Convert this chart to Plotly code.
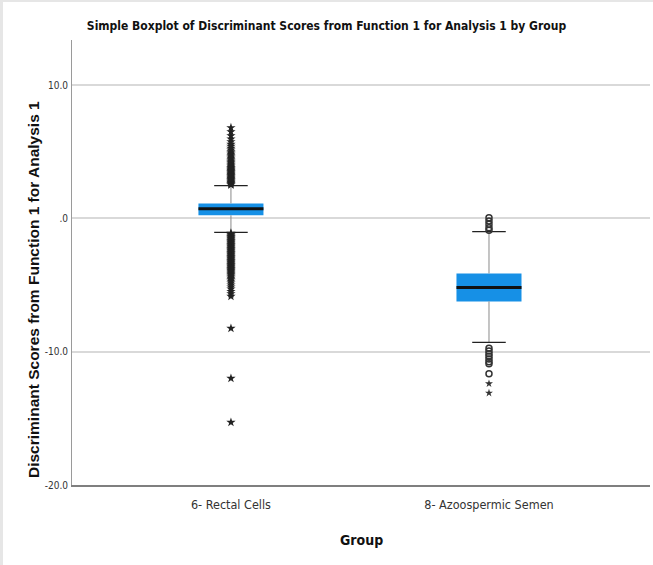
import plotly.graph_objects as go

# Groups and summary statistics of the discriminant scores
groups = ["6- Rectal Cells", "8- Azoospermic Semen"]
q1 = [0.23, -6.23]
median = [0.72, -5.18]
q3 = [1.12, -4.13]
lower_whisker = [-1.05, -9.30]
upper_whisker = [2.45, -1.00]

# Extreme values (stars) and outliers (circles) per group
rectal_extremes = [
    2.50, 2.56, 2.62, 2.68, 2.74, 2.80, 2.86, 2.92, 2.98, 3.04, 3.10, 3.16,
    3.22, 3.28, 3.34, 3.40, 3.46, 3.52, 3.58, 3.64, 3.70, 3.76, 3.82, 3.90,
    3.98, 4.06, 4.14, 4.22, 4.30, 4.40, 4.50, 4.60, 4.70, 4.80, 4.90, 5.00,
    5.12, 5.25, 5.40, 5.55, 5.75, 5.95, 6.20, 6.50, 6.80,
    -1.12, -1.18, -1.24, -1.30, -1.36, -1.42, -1.48, -1.54, -1.60, -1.66,
    -1.72, -1.78, -1.84, -1.90, -1.96, -2.02, -2.08, -2.14, -2.20, -2.26,
    -2.32, -2.38, -2.44, -2.50, -2.56, -2.62, -2.68, -2.74, -2.80, -2.86,
    -2.92, -2.98, -3.04, -3.10, -3.16, -3.22, -3.28, -3.34, -3.40, -3.46,
    -3.52, -3.58, -3.64, -3.70, -3.76, -3.82, -3.88, -3.94, -4.00, -4.08,
    -4.16, -4.24, -4.32, -4.40, -4.50, -4.60, -4.72, -4.85, -5.00, -5.15,
    -5.30, -5.48, -5.65, -5.85, -8.25, -12.00, -15.30,
]
semen_outliers = [0.05, -0.20, -0.45, -0.70, -0.90,
                  -9.75, -9.95, -10.15, -10.35, -10.55, -10.75, -10.90, -11.65]
semen_extremes = [-12.40, -13.10]

box_fill = "#1690e6"
box_w = 0.252
cap_w = 0.13

fig = go.Figure()
pos = [0, 1]

for i, g in enumerate(groups):
    fig.add_trace(go.Box(
        x=[pos[i]], q1=[q1[i]], median=[median[i]], q3=[q3[i]],
        lowerfence=[lower_whisker[i]], upperfence=[upper_whisker[i]],
        width=box_w, whiskerwidth=0, fillcolor=box_fill,
        line=dict(color="rgba(0,0,0,0)", width=0), boxpoints=False,
        hoverinfo="skip", showlegend=False,
    ))
    # whisker stems
    for lo, hi in [(q3[i], upper_whisker[i]), (lower_whisker[i], q1[i])]:
        fig.add_trace(go.Scatter(
            x=[pos[i], pos[i]], y=[lo, hi], mode="lines",
            line=dict(color="#8a8a8a", width=1), showlegend=False, hoverinfo="skip",
        ))
    # whisker caps
    for v in (upper_whisker[i], lower_whisker[i]):
        fig.add_trace(go.Scatter(
            x=[pos[i] - cap_w / 2, pos[i] + cap_w / 2], y=[v, v], mode="lines",
            line=dict(color="#222222", width=1.3), showlegend=False, hoverinfo="skip",
        ))
    # median line
    fig.add_trace(go.Scatter(
        x=[pos[i] - box_w / 2, pos[i] + box_w / 2], y=[median[i], median[i]],
        mode="lines", line=dict(color="#111111", width=3),
        showlegend=False, hoverinfo="skip",
    ))

fig.add_trace(go.Scatter(
    x=[pos[0]] * len(rectal_extremes), y=rectal_extremes, mode="markers",
    marker=dict(symbol="star", size=7, color="#222222"),
    showlegend=False, hoverinfo="y",
))
fig.add_trace(go.Scatter(
    x=[pos[1]] * len(semen_outliers), y=semen_outliers, mode="markers",
    marker=dict(symbol="circle-open", size=6, color="#333333", line=dict(width=1.5)),
    showlegend=False, hoverinfo="y",
))
fig.add_trace(go.Scatter(
    x=[pos[1]] * len(semen_extremes), y=semen_extremes, mode="markers",
    marker=dict(symbol="star", size=6, color="#333333"),
    showlegend=False, hoverinfo="y",
))

narrow = "DejaVu Sans Condensed, Liberation Sans, Arial, sans-serif"

fig.update_layout(
    width=653, height=565,
    margin=dict(l=72, r=3, t=40, b=80),
    paper_bgcolor="white", plot_bgcolor="white",
    title=dict(
        text="<b>Simple Boxplot of Discriminant Scores from Function 1 for Analysis 1 by Group</b>",
        x=0.5, xanchor="center", y=1 - 26 / 565, yanchor="middle",
        font=dict(family=narrow, size=12, color="#111111"),
    ),
    xaxis=dict(
        range=[-0.616, 1.624], tickvals=pos, ticktext=groups,
        showgrid=False, zeroline=False, showline=True,
        linecolor="#7f7f7f", linewidth=1.5, ticks="", ticklabelstandoff=7,
        tickfont=dict(family=narrow, size=12.5, color="#333333"),
    ),
    yaxis=dict(
        range=[-20, 13.375], tickvals=[-20, -10, 0, 10],
        ticktext=["-20.0", "-10.0", ".0", "10.0"],
        showgrid=True, gridcolor="#d9d9d9", gridwidth=2,
        zeroline=False, showline=True, linecolor="#9a9a9a", linewidth=1,
        ticks="", ticklabelstandoff=1,
        tickfont=dict(family=narrow, size=10, color="#333333"),
    ),
    annotations=[
        dict(text="<b>Group</b>", xref="paper", yref="paper",
             x=0.5 - 0.0, y=(485 - 540) / 445, xanchor="center", yanchor="middle",
             showarrow=False, font=dict(family=narrow, size=14, color="#111111")),
        dict(text="<b>Discriminant Scores from Function 1 for Analysis 1</b>",
             xref="paper", yref="paper", x=(33 - 72) / 578, y=(485 - 290) / 445,
             xanchor="center", yanchor="middle", textangle=-90, showarrow=False,
             font=dict(family="Liberation Sans, Arial, sans-serif", size=15.5, color="#111111")),
    ],
    shapes=[
        dict(type="line", xref="paper", yref="paper",
             x0=-72 / 578 + 1.5 / 578, x1=-72 / 578 + 1.5 / 578, y0=-80 / 445, y1=1 + 40 / 445,
             line=dict(color="#e6e6e6", width=3)),
        dict(type="line", xref="paper", yref="paper",
             x0=-72 / 578, x1=1 + 3 / 578, y0=1 + 39 / 445, y1=1 + 39 / 445,
             line=dict(color="#e6e6e6", width=2)),
    ],
)

fig.write_html("out.html")
